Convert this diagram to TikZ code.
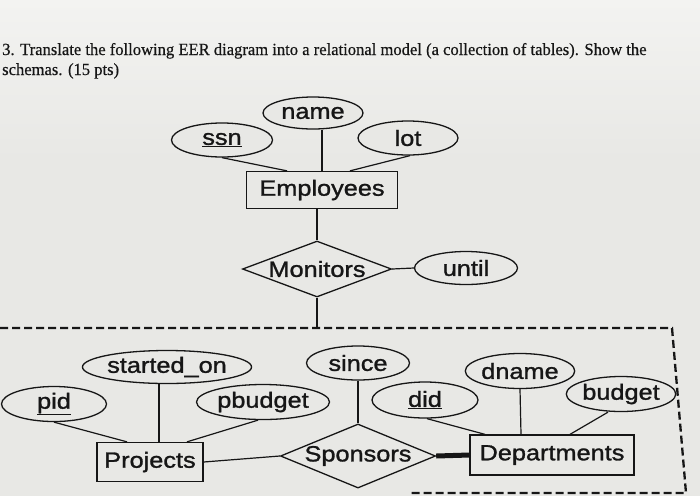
\documentclass[tikz,border=0pt]{standalone}
\usepackage{fontspec}
\usetikzlibrary{shapes.geometric,calc}
\newfontfamily\diagfont[FakeStretch=1.15,FakeBold=1.3]{Liberation Sans}
\newfontfamily\titlefont[FakeStretch=0.975,FakeBold=0.5]{Liberation Serif}
\definecolor{paper}{RGB}{232,232,229}
\definecolor{papertop}{RGB}{243,243,241}
\definecolor{ink}{RGB}{22,22,22}
\tikzset{
  base/.style={draw=ink, line width=1.3pt, fill=paper, inner sep=0pt, font=\diagfont\fontsize{22}{24}\selectfont, text=ink},
  attr/.style={base, ellipse, minimum width=#1, minimum height=34pt},
  ent/.style={base, rectangle, minimum width=#1, minimum height=37pt},
  rel/.style={base, diamond, aspect=2.5},
  conn/.style={draw=ink, line width=1.2pt},
  bold/.style={draw=ink, line width=5pt},
  boundary/.style={draw=ink, line width=2.3pt, dash pattern=on 8pt off 4pt},
  ttl/.style={anchor=base west, inner sep=0pt, font=\titlefont\fontsize{17}{19}\selectfont, text=ink}
}
\begin{document}
\begin{tikzpicture}[x=1pt,y=-1pt]
\useasboundingbox (0,0) rectangle (700,496);
\shade[top color=papertop, bottom color=paper] (0,0) rectangle (700,160);
\fill[paper] (0,160) rectangle (700,496);

% title
\node[ttl] (t1) at (2,55) {3. Translate the following EER diagram into a relational model (a collection of tables). Show the};
\node[ttl] (t2) at (2,75) {schemas. (15 pts)};

% upper part
\node[ent=151pt] (emp) at (322,190) {Employees};
\node[attr=101pt] (ssn) at (222,140) {\underline{ssn}};
\node[attr=100pt, minimum height=32pt] (name) at (313,113) {name};
\node[attr=100pt] (lot) at (408,138) {lot};
\node[rel, minimum width=149pt, minimum height=56pt] (mon) at (317,269) {Monitors};
\node[attr=103pt, minimum height=33pt] (until) at (466,268) {until};
\coordinate (bd) at (317,328);

\draw[conn] (ssn.south) -- ([xshift=-35pt]emp.north);
\draw[conn] (name.south -| emp.north) -- (emp.north);
\draw[conn] ([xshift=2pt]lot.south) -- ([xshift=28pt]emp.north);
\draw[conn] (emp.south -| mon.north) -- (mon.north);
\draw[conn] (mon.east) -- (until.west);
\draw[conn] (mon.south) -- (bd);

% aggregation boundary
\draw[boundary] (0,328) -- (672,328) -- (686,493) -- (410,493);

% lower part
\node[ent=106pt, minimum height=39pt] (proj) at (150,462) {Projects};
\node[attr=140pt, minimum height=33pt] (start) at (167,367) {started\_on};
\node[attr=105pt, minimum height=35pt] (pid) at (54,404) {\underline{pid}};
\node[attr=133pt, minimum height=35pt] (pbud) at (263,402) {pbudget};
\node[rel, minimum width=155pt, minimum height=64pt, aspect=2.42] (spon) at (358,456) {Sponsors};
\node[attr=103pt] (since) at (358,363) {since};
\node[attr=106pt, minimum height=36pt] (did) at (425,400) {\underline{did}};
\node[attr=106pt, minimum height=35pt] (dname) at (520,371) {dname};
\node[attr=107pt, minimum height=35pt] (budget) at (621,394) {budget};
\node[ent=164pt, minimum height=40pt] (dept) at (552,455) {Departments};

\draw[conn] (pid.south) -- ([xshift=-23pt]proj.north);
\draw[conn] (start.south -| 159,0) -- ([xshift=9pt]proj.north);
\draw[conn] ([xshift=-5pt]pbud.south) -- ([xshift=37pt]proj.north);
\draw[conn] (proj.east) -- (spon.west);
\draw[conn] (since.south) -- (spon.north);
\draw[conn] ([xshift=2pt]did.south) -- ([xshift=-67pt]dept.north);
\draw[conn] (dname.south) -- ([xshift=-31pt]dept.north);
\draw[conn] ([xshift=-13pt]budget.south) -- ([xshift=18pt]dept.north);
\draw[bold] (spon.east) -- (dept.west);
\end{tikzpicture}
\end{document}
